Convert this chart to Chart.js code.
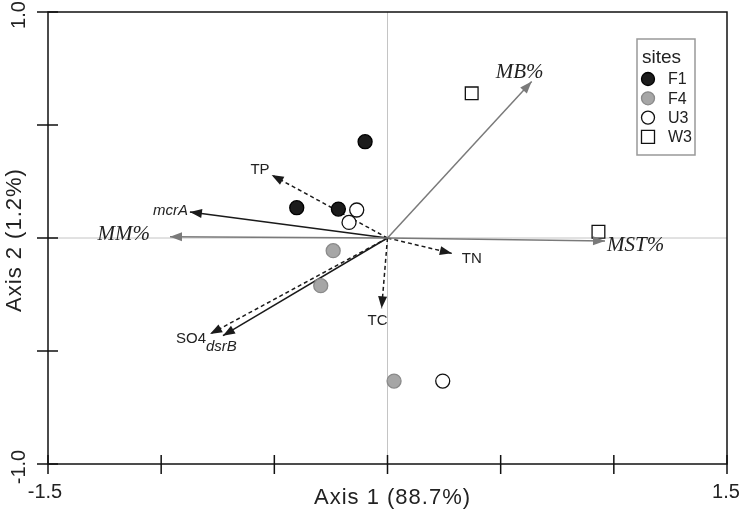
<!DOCTYPE html>
<html>
<head>
<meta charset="utf-8">
<script src="https://cdn.jsdelivr.net/npm/chart.js@4.4.0/dist/chart.umd.min.js"></script>
<style>
body { margin: 0; background: #fff; }
#wrap { width: 742px; height: 511px; }
</style>
</head>
<body>
<div id="wrap"><canvas id="myChart"></canvas></div>
<script>
// site scores
const f1X = [-0.099, -0.401, -0.217];
const f1Y = [0.426, 0.134, 0.128];
const f4X = [-0.240, -0.295, 0.029];
const f4Y = [-0.056, -0.211, -0.633];
const u3X = [-0.136, -0.170, 0.244];
const u3Y = [0.124, 0.069, -0.633];
const w3X = [0.372, 0.932];
const w3Y = [0.640, 0.028];

// environmental / gene vectors
const vecNames = ['MB%', 'MST%', 'MM%', 'mcrA', 'dsrB', 'SO4', 'TP', 'TN', 'TC'];
const vecX = [0.637, 0.961, -0.961, -0.873, -0.727, -0.784, -0.512, 0.284, -0.026];
const vecY = [0.692, -0.013, 0.006, 0.115, -0.432, -0.425, 0.279, -0.068, -0.311];

const xTicks = [-1.5, -1, -0.5, 0, 0.5, 1, 1.5];
const yTicks = [-1, -0.5, 0, 0.5, 1];
const xTickLabels = ['-1.5', '', '', '', '', '', '1.5'];
const yTickLabels = ['-1.0', '', '', '', '1.0'];
const xTitle = 'Axis 1 (88.7%)';
const yTitle = 'Axis 2 (1.2%)';
const legendTitle = 'sites';
const siteNames = ['F1', 'F4', 'U3', 'W3'];

// styling
const serifLbl = 'italic 21px "Liberation Serif", "Times New Roman", serif';
const sansIt = 'italic 15px "Liberation Sans", Arial, sans-serif';
const sans = '15px "Liberation Sans", Arial, sans-serif';
const vecStyle = {
    'MB%':  { kind: 'gray', font: serifLbl, align: 'center', dx: -12, dy: -4 },
    'MST%': { kind: 'gray', font: serifLbl, align: 'left', dx: 2, dy: 10 },
    'MM%':  { kind: 'gray', font: serifLbl, align: 'right', dx: -20, dy: 3 },
    'mcrA': { kind: 'solid', font: sansIt, align: 'right', dx: -2, dy: 3 },
    'dsrB': { kind: 'solid', font: sansIt, align: 'left', dx: -17, dy: 15 },
    'SO4':  { kind: 'dash', font: sans, align: 'right', dx: -4, dy: 9 },
    'TP':   { kind: 'dash', font: sans, align: 'right', dx: -2, dy: -1 },
    'TN':   { kind: 'dash', font: sans, align: 'left', dx: 10, dy: 10 },
    'TC':   { kind: 'dash', font: sans, align: 'center', dx: -4, dy: 17 }
};
const kindColor = { gray: '#7a7a7a', solid: '#1a1a1a', dash: '#1a1a1a' };
const siteStyle = {
    F1: { fill: '#1c1c1c', stroke: '#000000', shape: 'circle' },
    F4: { fill: '#a6a6a6', stroke: '#8a8a8a', shape: 'circle' },
    U3: { fill: '#ffffff', stroke: '#111111', shape: 'circle' },
    W3: { fill: '#ffffff', stroke: '#111111', shape: 'rect' }
};

function pts(xs, ys) {
    return xs.map((x, i) => ({ x: x, y: ys[i] }));
}

const siteData = { F1: pts(f1X, f1Y), F4: pts(f4X, f4Y), U3: pts(u3X, u3Y), W3: pts(w3X, w3Y) };

let datasets = [];
siteNames.forEach(name => {
    let s = siteStyle[name];
    datasets.push({
        label: name,
        data: siteData[name],
        pointStyle: s.shape,
        pointRadius: s.shape == 'rect' ? 9 : 7,
        pointBackgroundColor: s.fill,
        pointBorderColor: s.stroke,
        pointBorderWidth: 1.3,
        showLine: false,
        order: 0
    });
});
vecNames.forEach((name, i) => {
    let s = vecStyle[name];
    datasets.push({
        label: name,
        data: [{ x: 0, y: 0 }, { x: vecX[i], y: vecY[i] }],
        showLine: true,
        borderColor: kindColor[s.kind],
        borderWidth: 1.5,
        borderDash: s.kind == 'dash' ? [4, 3] : [],
        pointRadius: 0,
        order: 1
    });
});

const biplotPlugin = {
    id: 'biplot',
    beforeDatasetsDraw(chart) {
        const ctx = chart.ctx, a = chart.chartArea;
        const xs = chart.scales.x, ys = chart.scales.y;
        ctx.save();
        ctx.strokeStyle = '#c4c4c4';
        ctx.lineWidth = 1;
        let x0 = xs.getPixelForValue(0), y0 = ys.getPixelForValue(0);
        ctx.beginPath();
        ctx.moveTo(x0, a.top); ctx.lineTo(x0, a.bottom);
        ctx.moveTo(a.left, y0); ctx.lineTo(a.right, y0);
        ctx.stroke();
        ctx.restore();
    },
    afterDatasetsDraw(chart) {
        const ctx = chart.ctx;
        const xs = chart.scales.x, ys = chart.scales.y;
        let ox = xs.getPixelForValue(0), oy = ys.getPixelForValue(0);
        ctx.save();
        vecNames.forEach((name, i) => {
            let s = vecStyle[name];
            let tx = xs.getPixelForValue(vecX[i]), ty = ys.getPixelForValue(vecY[i]);
            let ang = Math.atan2(ty - oy, tx - ox);
            let len = 12, hw = 4.5;
            ctx.fillStyle = kindColor[s.kind];
            ctx.beginPath();
            ctx.moveTo(tx, ty);
            ctx.lineTo(tx - len * Math.cos(ang) + hw * Math.sin(ang), ty - len * Math.sin(ang) - hw * Math.cos(ang));
            ctx.lineTo(tx - len * Math.cos(ang) - hw * Math.sin(ang), ty - len * Math.sin(ang) + hw * Math.cos(ang));
            ctx.closePath();
            ctx.fill();
            ctx.font = s.font;
            ctx.fillStyle = '#222';
            ctx.textAlign = s.align;
            ctx.textBaseline = 'alphabetic';
            ctx.fillText(name, tx + s.dx, ty + s.dy);
        });
        ctx.restore();
    },
    afterDraw(chart) {
        const ctx = chart.ctx, a = chart.chartArea;
        const xs = chart.scales.x, ys = chart.scales.y;
        ctx.save();
        // frame
        ctx.strokeStyle = '#111';
        ctx.lineWidth = 1.5;
        ctx.strokeRect(a.left, a.top, a.right - a.left, a.bottom - a.top);
        // ticks crossing the axes
        ctx.beginPath();
        xTicks.forEach(v => {
            let px = xs.getPixelForValue(v);
            ctx.moveTo(px, a.bottom - 9); ctx.lineTo(px, a.bottom + 10);
        });
        yTicks.forEach(v => {
            let py = ys.getPixelForValue(v);
            ctx.moveTo(a.left - 11, py); ctx.lineTo(a.left + 10, py);
        });
        ctx.stroke();
        // tick labels
        ctx.fillStyle = '#222';
        ctx.font = '20px "Liberation Sans", Arial, sans-serif';
        ctx.textAlign = 'center';
        ctx.textBaseline = 'alphabetic';
        xTicks.forEach((v, i) => {
            if (xTickLabels[i]) ctx.fillText(xTickLabels[i], xs.getPixelForValue(v) + (v < 0 ? -3 : -1), 498);
        });
        yTicks.forEach((v, i) => {
            if (!yTickLabels[i]) return;
            ctx.save();
            ctx.translate(19, ys.getPixelForValue(v) + 3);
            ctx.rotate(-Math.PI / 2);
            ctx.textBaseline = 'middle';
            ctx.fillText(yTickLabels[i], 0, 0);
            ctx.restore();
        });
        // axis titles
        ctx.font = '22px "Liberation Sans", Arial, sans-serif';
        ctx.letterSpacing = '1px';
        ctx.fillText(xTitle, (a.left + a.right) / 2 + 5, 504);
        ctx.save();
        ctx.translate(15, (a.top + a.bottom) / 2 + 2);
        ctx.rotate(-Math.PI / 2);
        ctx.textBaseline = 'middle';
        ctx.fillText(yTitle, 0, 0);
        ctx.restore();
        ctx.letterSpacing = '0px';
        // legend
        let lx = 637, ly = 39;
        ctx.fillStyle = '#fff';
        ctx.fillRect(lx, ly, 58, 116);
        ctx.strokeStyle = '#999';
        ctx.lineWidth = 1.5;
        ctx.strokeRect(lx, ly, 58, 116);
        ctx.fillStyle = '#222';
        ctx.font = '19px "Liberation Sans", Arial, sans-serif';
        ctx.textAlign = 'left';
        ctx.fillText(legendTitle, lx + 5, ly + 24);
        ctx.font = '16px "Liberation Sans", Arial, sans-serif';
        ctx.textBaseline = 'middle';
        siteNames.forEach((name, i) => {
            let s = siteStyle[name];
            let cx = lx + 11, cy = ly + 40 + i * 19.3;
            ctx.fillStyle = s.fill;
            ctx.strokeStyle = s.stroke;
            ctx.lineWidth = 1.3;
            ctx.beginPath();
            if (s.shape == 'rect') ctx.rect(cx - 6.5, cy - 6.5, 13, 13);
            else ctx.arc(cx, cy, 6.5, 0, Math.PI * 2);
            ctx.fill();
            ctx.stroke();
            ctx.fillStyle = '#222';
            ctx.fillText(name, lx + 31, cy + 1);
        });
        ctx.restore();
    }
};

var ctx = document.getElementById('myChart');
var myChart = new Chart(ctx, {
    type: 'scatter',
    data: { datasets: datasets },
    options: {
        responsive: true,
        maintainAspectRatio: false,
        animation: false,
        layout: { padding: { left: 48, top: 12, right: 15, bottom: 47 } },
        plugins: { legend: { display: false }, tooltip: { enabled: false } },
        scales: {
            x: { type: 'linear', min: -1.5, max: 1.5, display: false },
            y: { type: 'linear', min: -1, max: 1, display: false }
        }
    },
    plugins: [biplotPlugin]
});
</script>
</body>
</html>
